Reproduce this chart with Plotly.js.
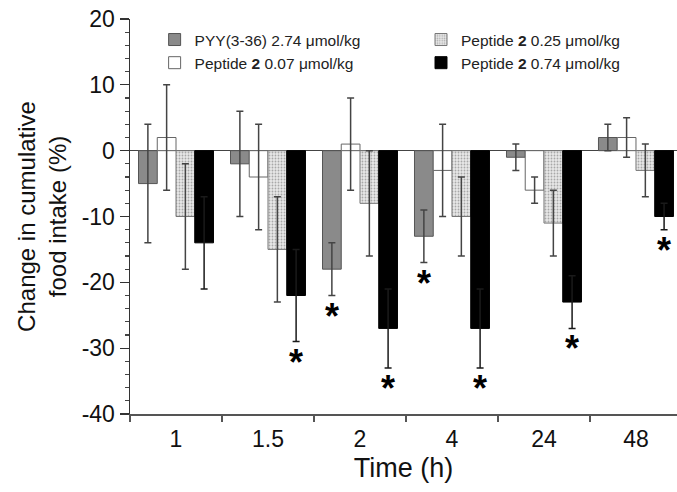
<!DOCTYPE html>
<html>
<head>
<meta charset="utf-8">
<script src="https://cdn.plot.ly/plotly-3.0.1.min.js"></script>
<style>html,body{margin:0;padding:0;background:#fff;}#chart{width:677px;height:492px;}</style>
</head>
<body>
<div id="chart"></div>
<script>
// ---- data ----
var categories = ['1', '1.5', '2', '4', '24', '48'];

var seriesNames = [
  'PYY(3-36) 2.74 \u03bcmol/kg',
  'Peptide <b>2</b> 0.07 \u03bcmol/kg',
  'Peptide <b>2</b> 0.25 \u03bcmol/kg',
  'Peptide <b>2</b> 0.74 \u03bcmol/kg'
];

var pyyValues   = [-5, -2, -18, -13, -1, 2];
var pyyErrors   = [9, 8, 4, 4, 2, 2];
var pyySig      = [0, 0, 1, 1, 0, 0];

var p007Values  = [2, -4, 1, -3, -6, 2];
var p007Errors  = [8, 8, 7, 7, 2, 3];
var p007Sig     = [0, 0, 0, 0, 0, 0];

var p025Values  = [-10, -15, -8, -10, -11, -3];
var p025Errors  = [8, 8, 8, 6, 5, 4];
var p025Sig     = [0, 0, 0, 0, 0, 0];

var p074Values  = [-14, -22, -27, -27, -23, -10];
var p074Errors  = [7, 7, 6, 6, 4, 2];
var p074Sig     = [0, 1, 1, 1, 1, 1];

var yTickVals = [-40, -30, -20, -10, 0, 10, 20];
var yTickText = ['-40', '-30', '-20', '-10', '0', '10', '20'];

// ---- styling ----
var FONT = 'Arial, "Liberation Sans", Helvetica, sans-serif';
var BARGAP = 0.185;
var allValues = [pyyValues, p007Values, p025Values, p074Values];
var allErrors = [pyyErrors, p007Errors, p025Errors, p074Errors];
var allSig = [pyySig, p007Sig, p025Sig, p074Sig];
var legendIds = ['legend', 'legend', 'legend2', 'legend2'];
var errColors = ['#444', '#444', '#444', '#1a1a1a'];

var markers = [
  {color: '#8a8a8a', line: {color: '#555', width: 1}},
  {color: '#ffffff', line: {color: '#666', width: 1}},
  {color: '#dcdcdc', line: {color: '#777', width: 1},
   pattern: {shape: '.', bgcolor: '#e8e8e8', fgcolor: '#a8a8a8', size: 3, solidity: 0.3}},
  {color: '#000000', line: {color: '#000', width: 1}}
];

var traces = [];
for (var s = 0; s < 4; s++) {
  traces.push({
    type: 'bar',
    name: seriesNames[s],
    x: categories,
    y: allValues[s],
    marker: markers[s],
    legend: legendIds[s],
    error_y: {type: 'data', array: allErrors[s], visible: true,
              color: errColors[s], thickness: 1.5, width: 3.5},
    hoverinfo: 'skip'
  });
}

// asterisks under significant bars
var annotations = [];
var nSeries = 4;
var barW = (1 - BARGAP) / nSeries;
for (var s2 = 0; s2 < nSeries; s2++) {
  for (var i = 0; i < categories.length; i++) {
    if (allSig[s2][i]) {
      annotations.push({
        xref: 'x', yref: 'y',
        x: i - (1 - BARGAP) / 2 + (s2 + 0.5) * barW,
        y: allValues[s2][i] - allErrors[s2][i],
        text: '<b>*</b>', showarrow: false,
        yanchor: 'top', yshift: 2,
        font: {family: FONT, size: 36, color: '#000'}
      });
    }
  }
}

var legendCommon = {
  orientation: 'v', xanchor: 'left', yanchor: 'top', y: 0.99,
  bgcolor: 'rgba(0,0,0,0)', font: {family: FONT, size: 15.5, color: '#222'},
  itemclick: false, tracegroupgap: 0
};

var layout = {
  width: 677, height: 492,
  margin: {l: 130, r: 0, t: 19, b: 78},
  paper_bgcolor: '#fff', plot_bgcolor: '#fff',
  font: {family: FONT, color: '#111'},
  barmode: 'group', bargap: BARGAP, bargroupgap: 0,
  showlegend: true,
  legend: Object.assign({}, legendCommon, {x: 0.045}),
  legend2: Object.assign({}, legendCommon, {x: 0.532}),
  xaxis: {
    type: 'category', range: [-0.5, 5.446],
    showline: true, linecolor: '#555', linewidth: 1.5,
    ticks: 'outside', tickson: 'boundaries', ticklen: 6, tickcolor: '#555', tickwidth: 1.2,
    ticklabelstandoff: 4,
    tickfont: {family: FONT, size: 23, color: '#111'},
    showgrid: false, zeroline: false,
    title: {text: 'Time (h)', font: {family: FONT, size: 27, color: '#111'}, standoff: 7}
  },
  yaxis: {
    range: [-40, 20], tickvals: yTickVals, ticktext: yTickText,
    showline: true, linecolor: '#333', linewidth: 1.5,
    ticks: 'outside', ticklen: 9, tickcolor: '#333', tickwidth: 1.2,
    minor: {dtick: 2, ticks: 'outside', ticklen: 4, tickcolor: '#444', showgrid: false},
    tickfont: {family: FONT, size: 23, color: '#111'},
    showgrid: false,
    zeroline: true, zerolinecolor: '#444', zerolinewidth: 1.5,
    title: {text: 'Change in cumulative<br>food intake (%)',
            font: {family: FONT, size: 24, color: '#111'}, standoff: 8}
  },
  annotations: annotations
};

Plotly.newPlot('chart', traces, layout, {displayModeBar: false, staticPlot: true});
</script>
</body>
</html>
